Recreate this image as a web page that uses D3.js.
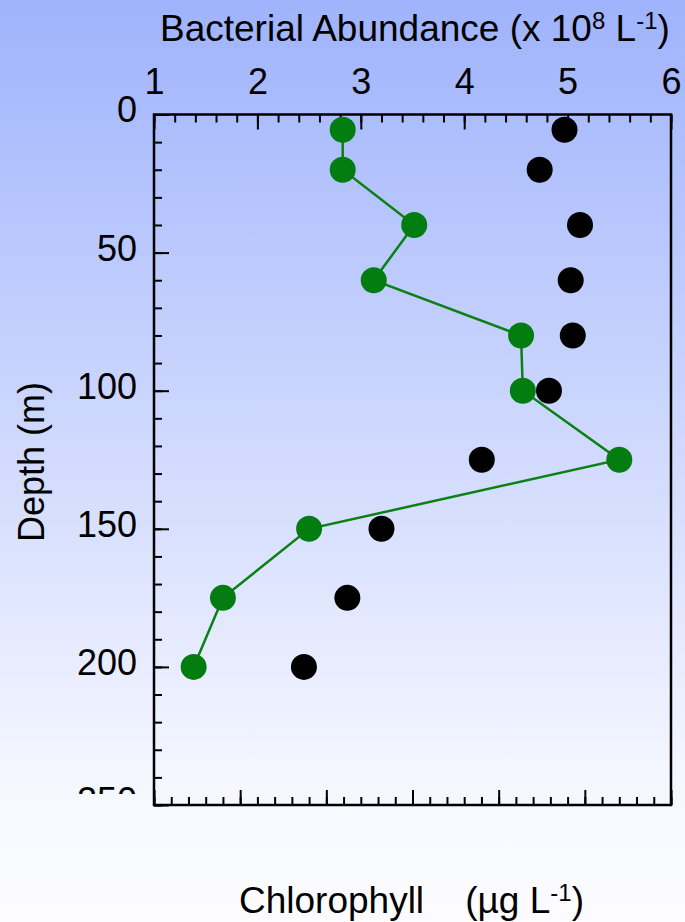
<!DOCTYPE html>
<html>
<head>
<meta charset="utf-8">
<script src="https://cdn.jsdelivr.net/npm/d3@7"></script>
<style>
  html, body { margin: 0; padding: 0; }
  svg { display: block; font-family: "Liberation Sans", Arial, Helvetica, sans-serif; }
</style>
</head>
<body>
<script>
var W = 685, H = 922;
var LEFT = 154, RIGHT = 671, TOP = 114.5, BOTTOM = 805;

// data
var depths = [5.5, 20, 40, 60, 80, 100, 125, 150, 175, 200];
var bacteria = [4.97, 4.73, 5.12, 5.03, 5.05, 4.82, 4.17, 3.2, 2.87, 2.45];
var chlorophyll = [0.219, 0.219, 0.302, 0.255, 0.426, 0.428, 0.54, 0.18, 0.08, 0.046];
var topTicks = [1, 2, 3, 4, 5, 6];
var depthTicks = [0, 50, 100, 150, 200, 250];
var chlTicks = [0, 0.1, 0.2, 0.3, 0.4, 0.5, 0.6];

var y = d3.scaleLinear().domain([0, 250]).range([TOP, BOTTOM]);
var xTop = d3.scaleLinear().domain([1, 6]).range([LEFT, RIGHT]);
var xBot = d3.scaleLinear().domain([0, 0.6]).range([LEFT, RIGHT]);

var svg = d3.select("body").append("svg")
    .attr("width", W)
    .attr("height", H);

var defs = svg.append("defs");
var grad = defs.append("linearGradient")
    .attr("id", "bg")
    .attr("x1", 0).attr("y1", 0).attr("x2", 0).attr("y2", 1);
grad.append("stop").attr("offset", "0%").attr("stop-color", "#9fb3fc");
grad.append("stop").attr("offset", "88%").attr("stop-color", "#f8f9ff");
grad.append("stop").attr("offset", "100%").attr("stop-color", "#fcfcff");

// clip for the half-hidden bottom depth label
defs.append("clipPath").attr("id", "leftclip")
  .append("rect").attr("x", 0).attr("y", 0).attr("width", LEFT + 20).attr("height", 794);

svg.append("rect")
    .attr("width", W)
    .attr("height", H)
    .attr("fill", "url(#bg)");

function styleAxis(g) {
    g.select(".domain").remove();
    g.selectAll(".tick line").attr("stroke", "#000").attr("stroke-width", 2);
    g.selectAll("text").attr("fill", "#000").attr("font-size", 36);
}

// minor ticks
svg.append("g")
    .attr("transform", "translate(0," + TOP + ")")
    .call(d3.axisTop(xTop).tickValues(d3.range(1, 6.01, 0.2)).tickSize(-8).tickFormat(""))
    .call(styleAxis);
svg.append("g")
    .attr("transform", "translate(0," + BOTTOM + ")")
    .call(d3.axisBottom(xBot).tickValues(d3.range(0, 0.601, 0.02)).tickSize(-8).tickFormat(""))
    .call(styleAxis);
svg.append("g")
    .attr("transform", "translate(" + LEFT + ",0)")
    .call(d3.axisLeft(y).tickValues(d3.range(0, 251, 10)).tickSize(-8).tickFormat(""))
    .call(styleAxis);

// major ticks + labels
svg.append("g")
    .attr("transform", "translate(0," + TOP + ")")
    .call(d3.axisTop(xTop).tickValues(topTicks).tickSize(-15).tickPadding(21).tickFormat(d3.format("d")))
    .call(styleAxis);
svg.append("g")
    .attr("transform", "translate(0," + BOTTOM + ")")
    .call(d3.axisBottom(xBot).tickValues(chlTicks).tickSize(-15).tickFormat(""))
    .call(styleAxis);

// left axis: ticks from the axis, labels moved into a clipped group
var leftAxis = svg.append("g")
    .attr("transform", "translate(" + LEFT + ",0)")
    .call(d3.axisLeft(y).tickValues(depthTicks).tickSize(-15).tickFormat(""))
    .call(styleAxis);

svg.append("g")
    .attr("clip-path", "url(#leftclip)")
    .selectAll("text")
    .data(depthTicks)
    .join("text")
    .attr("x", LEFT - 17)
    .attr("y", function(d) { return y(d); })
    .attr("dy", "0.22em")
    .attr("text-anchor", "end")
    .attr("font-size", 36)
    .attr("fill", "#000")
    .text(d3.format("d"));

// bacteria points
svg.append("g").selectAll("circle")
    .data(depths)
    .join("circle")
    .attr("cx", function(d, i) { return xTop(bacteria[i]); })
    .attr("cy", function(d) { return y(d); })
    .attr("r", 13)
    .attr("fill", "#000");

// chlorophyll profile
var line = d3.line()
    .x(function(d, i) { return xBot(chlorophyll[i]); })
    .y(function(d) { return y(d); });

svg.append("path")
    .datum(depths)
    .attr("d", line)
    .attr("fill", "none")
    .attr("stroke", "#0a8015")
    .attr("stroke-width", 2.5);

svg.append("g").selectAll("circle")
    .data(depths)
    .join("circle")
    .attr("cx", function(d, i) { return xBot(chlorophyll[i]); })
    .attr("cy", function(d) { return y(d); })
    .attr("r", 13)
    .attr("fill", "#037d10");

// frame
svg.append("rect")
    .attr("x", LEFT)
    .attr("y", TOP)
    .attr("width", RIGHT - LEFT)
    .attr("height", BOTTOM - TOP)
    .attr("fill", "none")
    .attr("stroke", "#000")
    .attr("stroke-width", 2.5);

// titles
var t1 = svg.append("text")
    .attr("x", 160)
    .attr("y", 41)
    .attr("font-size", 37)
    .attr("fill", "#000");
t1.append("tspan").text("Bacterial Abundance (x 10");
t1.append("tspan").attr("font-size", 24).attr("dy", -12).text("8");
t1.append("tspan").attr("dy", 12).text(" L");
t1.append("tspan").attr("font-size", 24).attr("dy", -12).text("-1");
t1.append("tspan").attr("dy", 12).text(")");

var t2 = svg.append("text")
    .attr("x", 239)
    .attr("y", 913)
    .attr("font-size", 37)
    .attr("fill", "#000")
    .style("white-space", "pre");
t2.append("tspan").text("Chlorophyll    (\u00b5g L");
t2.append("tspan").attr("font-size", 24).attr("dy", -12).text("-1");
t2.append("tspan").attr("dy", 12).text(")");

svg.append("text")
    .attr("transform", "translate(44,462) rotate(-90)")
    .attr("text-anchor", "middle")
    .attr("font-size", 36)
    .attr("fill", "#000")
    .text("Depth (m)");
</script>
</body>
</html>
